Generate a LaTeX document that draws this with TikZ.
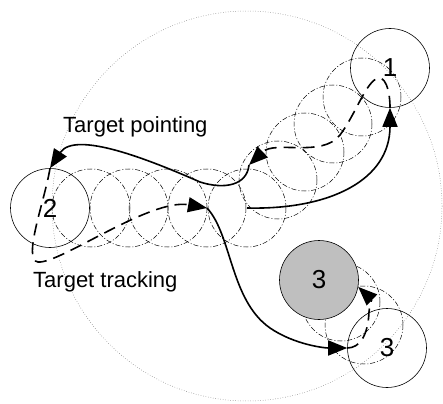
\documentclass[tikz,border=0pt]{standalone}
\usepackage{fontspec}
\setmainfont{Liberation Sans}
\usetikzlibrary{arrows.meta}
\begin{document}
\begin{tikzpicture}[x=1pt,y=-1pt,
  site/.style={circle,draw,line width=0.6pt,minimum size=79pt,inner sep=0pt,font=\fontsize{26}{26}\selectfont},
  ghost/.style={circle,draw=black,line width=0.5pt,minimum size=78pt,inner sep=0pt,dash pattern=on 5pt off 2pt on 1pt off 2pt},
  tipstyle/.style={-{Triangle[length=19pt,width=15pt]}},
  point/.style={line width=1.6pt,tipstyle},
  track/.style={line width=1.6pt,dash pattern=on 12pt off 7pt,tipstyle},
  lab/.style={font=\fontsize{22}{22}\selectfont,anchor=base west,inner sep=0pt}]
\useasboundingbox (0,0) rectangle (443,403);
% intermediate positions
\node[ghost] (c1) at (91,208) {};
\node[ghost] (c2) at (129,208) {};
\node[ghost] (c3) at (168,208) {};
\node[ghost] (c4) at (207,208) {};
\node[ghost] (c5) at (247,208) {};
\node[ghost] (d1) at (278,180) {};
\node[ghost] (d2) at (305,152) {};
\node[ghost] (d3) at (333,124) {};
\node[ghost] (d4) at (362,97) {};
\node[ghost] (e1) at (341,302) {};
\node[ghost] (e2) at (364,325) {};
% field of view
\draw[dotted,black!60,line width=0.5pt] (247,206) circle (195);
% sites
\node[site] (n1) at (390,68) {1};
\node[site] (n2) at (50,208) {2};
\node[site] (n3) at (387,348) {3};
\node[site,fill=black!25] (g3) at (319,280) {3};
% labels
\node[lab] (tp) at (63,133) {Target pointing};
\node[lab] (tt) at (33,287) {Target tracking};
% helper coordinate
\coordinate (p1) at (249,165);
% paths
\draw[point] (c5.center) .. controls (330,210) and (390,180) .. (n1.south);
\draw[track] (n1.south) .. controls (390,90) and (385,74) .. (376,79)
   .. controls (365,85) and (355,115) .. (340,135)
   .. controls (322,158) and (275,140) .. (p1);
\draw[point] (p1) .. controls (247,185) and (225,190) .. (200,182)
   .. controls (150,160) and (75,130) .. (n2.north);
\draw[track] (n2.north) .. controls (45,200) and (22,260) .. (38,262)
   .. controls (60,264) and (150,198) .. (c4.center);
\draw[point] (c4.center) .. controls (232,235) and (230,300) .. (270,328)
   .. controls (295,345) and (325,348) .. (n3.west);
\draw[track] (n3.west) .. controls (360,348) and (368,335) .. (369,312)
   .. controls (370,302) and (372,300) .. (g3.-10);
\end{tikzpicture}
\end{document}
